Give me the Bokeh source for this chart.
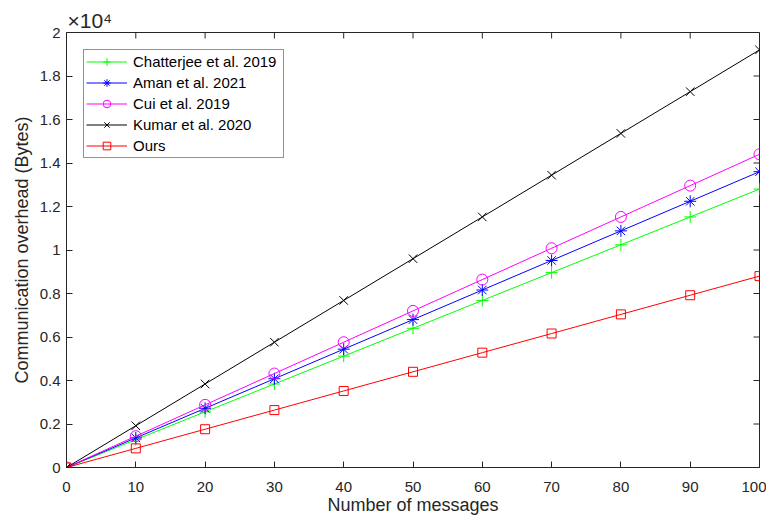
from bokeh.plotting import figure
from bokeh.models import Range1d, Legend, LegendItem, FixedTicker
from bokeh.embed import file_html
from bokeh.resources import INLINE

messages = [0, 10, 20, 30, 40, 50, 60, 70, 80, 90, 100]
chatterjee = [0, 1280, 2560, 3840, 5120, 6400, 7680, 8960, 10240, 11520, 12800]
aman = [0, 1360, 2720, 4080, 5440, 6800, 8160, 9520, 10880, 12240, 13600]
cui = [0, 1440, 2880, 4320, 5760, 7200, 8640, 10080, 11520, 12960, 14400]
kumar = [0, 1920, 3840, 5760, 7680, 9600, 11520, 13440, 15360, 17280, 19200]
ours = [0, 880, 1760, 2640, 3520, 4400, 5280, 6160, 7040, 7920, 8800]

x_ticks = [0, 10, 20, 30, 40, 50, 60, 70, 80, 90, 100]
y_ticks = [0, 2000, 4000, 6000, 8000, 10000, 12000, 14000, 16000, 18000, 20000]
y_tick_labels = ["0", "0.2", "0.4", "0.6", "0.8", "1", "1.2", "1.4", "1.6", "1.8", "2"]

FONT = "Liberation Sans"
AX = "#262626"

W, H = 766, 521
BL, BR, BT, BB = 66, 7, 32, 54
X0, X1, Y0, Y1 = 0, 100, 0, 20000

p = figure(width=W, height=H, output_backend="svg", toolbar_location=None,
           x_range=Range1d(X0, X1), y_range=Range1d(Y0, Y1),
           min_border_left=BL, min_border_right=BR, min_border_top=BT, min_border_bottom=BB,
           title="×10⁴")
p.title.text_font = FONT
p.title.text_font_size = "21px"
p.title.text_font_style = "normal"
p.title.text_color = AX
p.title.align = "left"
p.title.offset = 1
p.title.standoff = 1

p.xgrid.visible = False
p.ygrid.visible = False
p.outline_line_color = AX
p.outline_line_width = 1

for ax in (p.xaxis[0], p.yaxis[0]):
    ax.axis_line_color = AX
    ax.major_tick_line_color = AX
    ax.major_tick_in = 6
    ax.major_tick_out = 0
    ax.minor_tick_line_color = None
    ax.major_label_text_font = FONT
    ax.major_label_text_font_size = "15px"
    ax.major_label_text_color = AX
    ax.axis_label_text_font = FONT
    ax.axis_label_text_font_size = "18px"
    ax.axis_label_text_font_style = "normal"
    ax.axis_label_text_color = AX

p.xaxis.ticker = FixedTicker(ticks=x_ticks)
p.yaxis.ticker = FixedTicker(ticks=y_ticks)
p.yaxis.major_label_overrides = {t: s for t, s in zip(y_ticks, y_tick_labels)}
p.xaxis.axis_label = "Number of messages"
p.yaxis.axis_label = "Communication overhead (Bytes)"
p.xaxis.major_label_standoff = 14
p.xaxis.axis_label_standoff = 0
p.yaxis.major_label_standoff = 6
p.yaxis.axis_label_standoff = 5

# inward ticks on the top and right edges of the box (MATLAB style)
fw = W - BL - BR
fh = H - BT - BB
tx = 6 * (X1 - X0) / fw
ty = 6 * (Y1 - Y0) / fh
p.segment(x0=x_ticks, y0=[Y1] * len(x_ticks), x1=x_ticks, y1=[Y1 - ty] * len(x_ticks),
          line_color=AX, line_width=1)
p.segment(x0=[X1] * len(y_ticks), y0=y_ticks, x1=[X1 - tx] * len(y_ticks), y1=y_ticks,
          line_color=AX, line_width=1)

series = [
    ("Chatterjee et al. 2019", chatterjee, "#00ff00", "cross", 12),
    ("Aman et al. 2021", aman, "#0000ff", "asterisk", 12),
    ("Cui et al. 2019", cui, "#ff00ff", "circle", 11),
    ("Kumar et al. 2020", kumar, "#000000", "x", 12),
    ("Ours", ours, "#ff0000", "square", 9),
]
items = []
for name, ys, col, mk, sz in series:
    r1 = p.line(messages, ys, line_color=col, line_width=1)
    r2 = p.scatter(messages, ys, marker=mk, size=sz, line_color=col,
                   fill_color=None, line_width=1)
    items.append(LegendItem(label=name, renderers=[r1, r2]))

legend = Legend(items=items, location="top_left")
legend.label_text_font = FONT
legend.label_text_font_size = "15px"
legend.label_text_color = "#000000"
legend.border_line_color = AX
legend.border_line_width = 1
legend.background_fill_alpha = 1
legend.glyph_width = 41
legend.glyph_height = 19
legend.label_height = 19
legend.label_width = 148
legend.spacing = 2
legend.padding = 2
legend.margin = 17
legend.label_standoff = 6
p.add_layout(legend, "center")

open("out.html", "w").write(file_html(p, INLINE))
